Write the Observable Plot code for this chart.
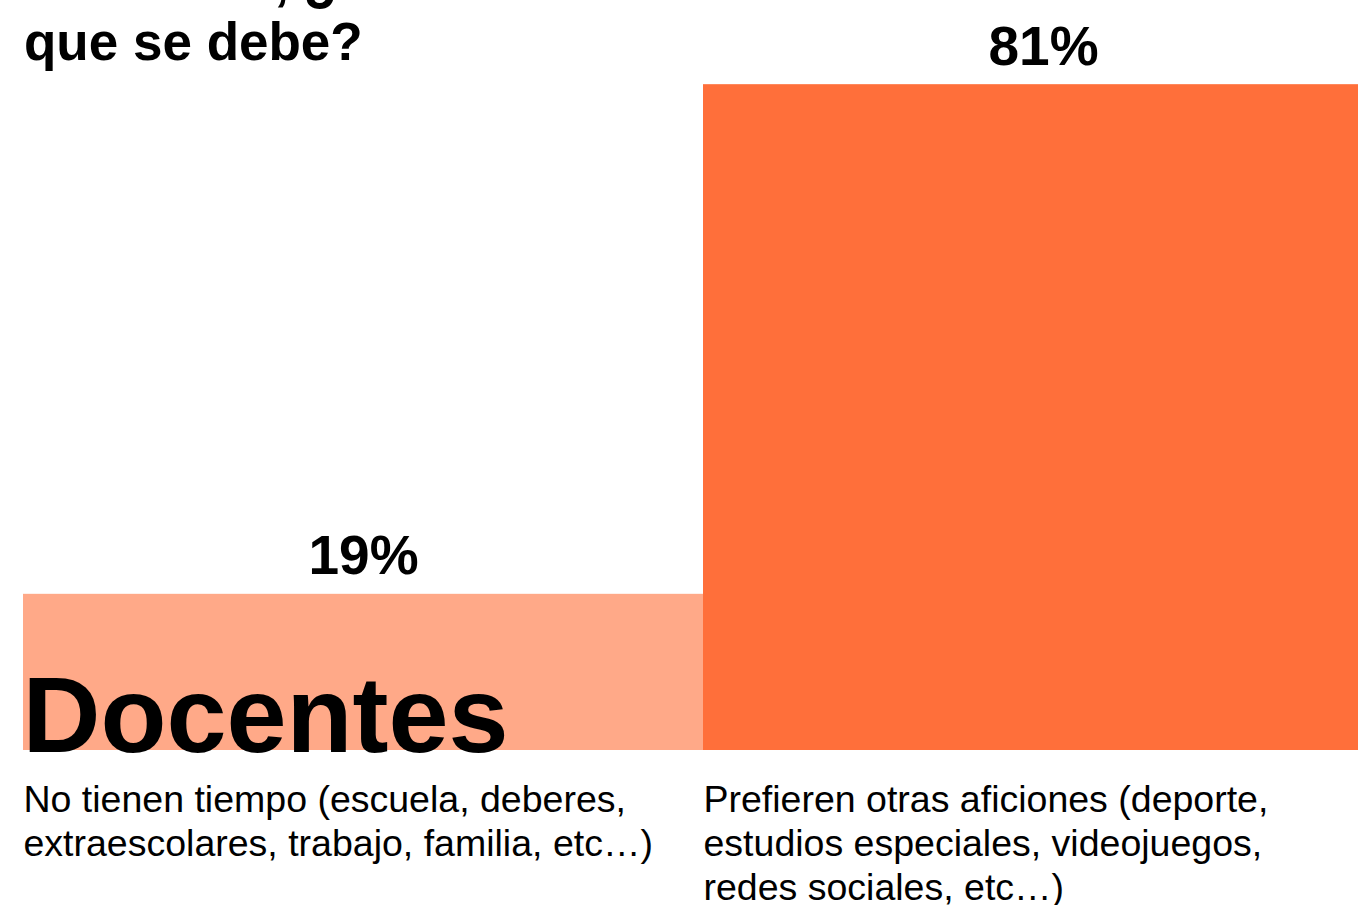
<!DOCTYPE html>
<html>
<head>
<meta charset="utf-8">
<script src="https://cdn.jsdelivr.net/npm/d3@7"></script>
<script src="https://cdn.jsdelivr.net/npm/@observablehq/plot@0.6"></script>
<style>
  html, body { margin: 0; padding: 0; background: #fff; overflow: hidden; }
  body { width: 1358px; height: 905px; position: relative; font-family: "Liberation Sans", Arial, Helvetica, sans-serif; }
  #title { position: absolute; left: 24px; top: -50px; font-size: 53px; font-weight: bold; line-height: 61px; color: #000; white-space: nowrap; z-index: 2; }
  #chart { position: absolute; left: 0; top: 0; }
</style>
</head>
<body>
<div id="title">Si no leen, ¿a<br>que se debe?</div>
<div id="chart"></div>
<script>
// ---- data ----
const categories = ["No tienen tiempo", "Prefieren otras aficiones"];
const values = [19, 81];
const valueLabels = ["19%", "81%"];
const descriptions = [
  "No tienen tiempo (escuela, deberes,\nextraescolares, trabajo, familia, etc…)",
  "Prefieren otras aficiones (deporte,\nestudios especiales, videojuegos,\nredes sociales, etc…)"
];
const colors = ["#FFA988", "#FF6F3A"];
const groupLabel = ["Docentes"];

const rows = categories.map((c, i) => ({
  category: c,
  start: i,
  end: i + 1,
  mid: i + 0.5,
  value: values[i],
  label: valueLabels[i],
  description: descriptions[i],
  color: colors[i]
}));

const font = "Liberation Sans, Arial, Helvetica, sans-serif";

const chart = Plot.plot({
  width: 1358,
  height: 905,
  margin: 0,
  style: { fontFamily: font, background: "transparent", overflow: "visible" },
  x: { domain: [0, 2], range: [23, 1383], axis: null },
  y: { domain: [0, 100], range: [750, -72], axis: null },
  color: { type: "identity" },
  marks: [
    Plot.rectY(rows, { x1: "start", x2: "end", y: "value", fill: "color", inset: 0 }),
    Plot.text(rows, {
      x: "mid", y: "value", text: "label", dy: -20, lineAnchor: "bottom",
      fontSize: 55, fontWeight: "bold", fill: "#000"
    }),
    Plot.text(groupLabel, {
      x: () => 0, y: () => 0, text: d => d, textAnchor: "start", lineAnchor: "bottom",
      dx: -1, dy: 1, fontSize: 108, fontWeight: "bold", fill: "#000"
    }),
    Plot.text(rows, {
      x: "start", y: () => 0, text: "description", textAnchor: "start", lineAnchor: "top",
      dx: 0, dy: 30, fontSize: 37.5, lineHeight: 1.18, fill: "#000"
    })
  ]
});
document.getElementById("chart").appendChild(chart);
</script>
</body>
</html>
